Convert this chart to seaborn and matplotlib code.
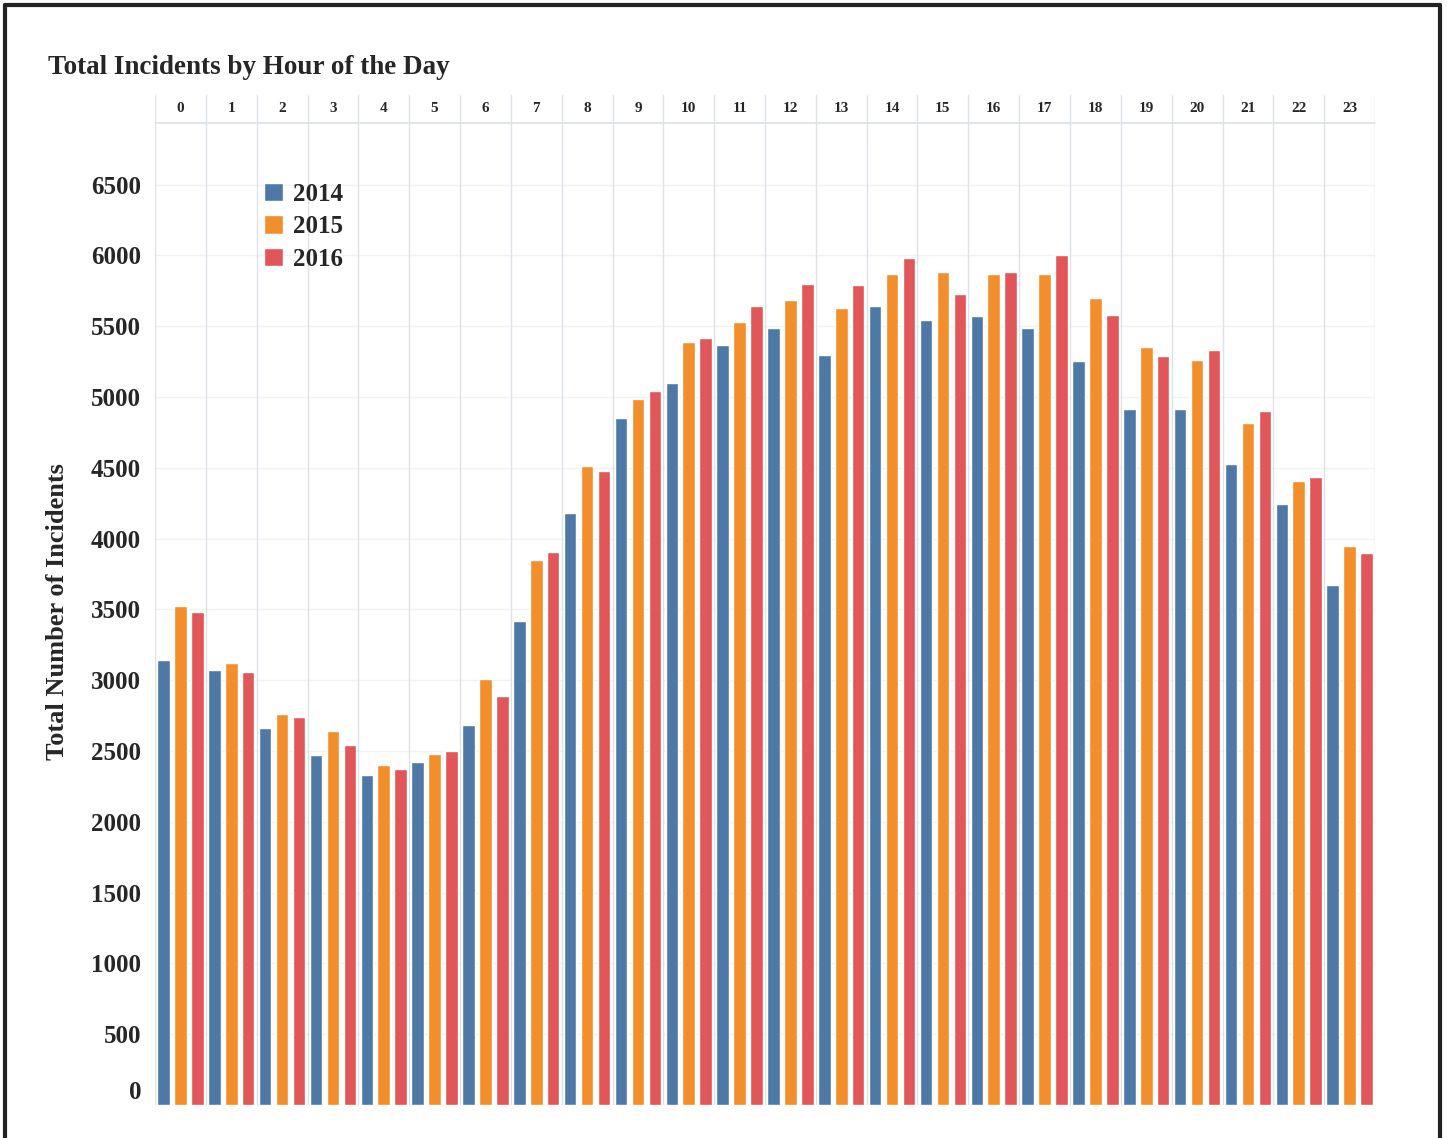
import numpy as np
import pandas as pd
import seaborn as sns
import matplotlib.pyplot as plt
from matplotlib.lines import Line2D
from matplotlib.transforms import ScaledTranslation

sns.set_style("white")
plt.rcParams['font.family'] = ['Liberation Serif', 'DejaVu Serif']
plt.rcParams['font.weight'] = 'bold'

hours = list(range(24))
years = ["2014", "2015", "2016"]
inc_2014 = [3140, 3070, 2660, 2470, 2330, 2425, 2685, 3415, 4180, 4850, 5100, 5370,
            5485, 5295, 5640, 5545, 5570, 5485, 5255, 4915, 4915, 4525, 4245, 3670]
inc_2015 = [3525, 3120, 2760, 2640, 2400, 2480, 3005, 3850, 4515, 4985, 5390, 5530,
            5685, 5625, 5870, 5885, 5870, 5870, 5700, 5355, 5260, 4815, 4410, 3950]
inc_2016 = [3480, 3055, 2740, 2540, 2375, 2500, 2890, 3905, 4480, 5040, 5415, 5645,
            5800, 5790, 5980, 5725, 5885, 6000, 5580, 5290, 5330, 4900, 4435, 3900]
colors = ["#4e79a7", "#f28e2b", "#e15759"]

df = pd.DataFrame({
    "hour": hours * 3,
    "incidents": inc_2014 + inc_2015 + inc_2016,
    "year": [y for y in years for _ in hours],
})

W, H = 1447, 1138
fig = plt.figure(figsize=(W / 100, H / 100), dpi=100)

# main plot area
x0, x1, ytop, ybot = 155, 1375, 123, 1105
ax = fig.add_axes([x0 / W, 1 - ybot / H, (x1 - x0) / W, (ybot - ytop) / H])
sns.barplot(data=df, x="hour", y="incidents", hue="year", palette=colors,
            width=1.0, gap=0.26, saturation=1, ax=ax, errorbar=None)
ax.set_xlim(-0.5, 23.5)
ax.set_ylim(0, 6935)
ax.set_yticks(range(0, 7000, 500))
ax.set_yticklabels([str(v) for v in range(0, 7000, 500)], fontsize=18, fontweight='bold')
ax.tick_params(axis='y', length=0, pad=10)
# the 0 label sits a bit above the baseline in the original
lab0 = ax.get_yticklabels()[0]
lab0.set_transform(lab0.get_transform() + ScaledTranslation(0, 0.15, fig.dpi_scale_trans))
ax.set_xticks([])
ax.set_xlabel("")
ax.set_ylabel("")
for s in ax.spines.values():
    s.set_visible(False)
for v in range(0, 7000, 500):
    ax.axhline(v, color="#f2f2f2", lw=1, zorder=0)
for i in range(25):
    ax.axvline(i - 0.5, color="#dde2e8", lw=1, zorder=0)
ax.axhline(6935, color="#dde2e8", lw=1.2, zorder=0, clip_on=False)

leg = ax.legend(loc="upper left", bbox_to_anchor=(0.079, 0.952), frameon=False,
                handlelength=0.75, handleheight=0.75, handletextpad=0.4,
                labelspacing=0.38, borderpad=0,
                prop={'size': 18, 'weight': 'bold'})

# header with hour labels
hh = 28
axh = fig.add_axes([x0 / W, 1 - ytop / H, (x1 - x0) / W, hh / H])
axh.set_xlim(-0.5, 23.5)
axh.set_ylim(0, 1)
axh.axis("off")
for i in range(25):
    axh.axvline(i - 0.5, color="#dde2e8", lw=1)
for h in hours:
    axh.text(h, 0.5, str(h), ha="center", va="center", fontsize=11, fontweight='bold')

fig.text(48 / W, 1 - 68 / H, "Total Incidents by Hour of the Day", fontsize=19.5,
         fontweight='bold', ha="left", va="center")
fig.text(58 / W, 1 - 612 / H, "Total Number of Incidents", fontsize=19,
         fontweight='bold', rotation=90, ha="center", va="center")

# outer frame
for xs, ys in [([5, 5], [5, H]), ([5, 1440], [5, 5]), ([1440, 1440], [5, H])]:
    fig.add_artist(Line2D([x / W for x in xs], [1 - y / H for y in ys],
                          color="#222222", lw=3))

fig.savefig("out.png", dpi=100)
